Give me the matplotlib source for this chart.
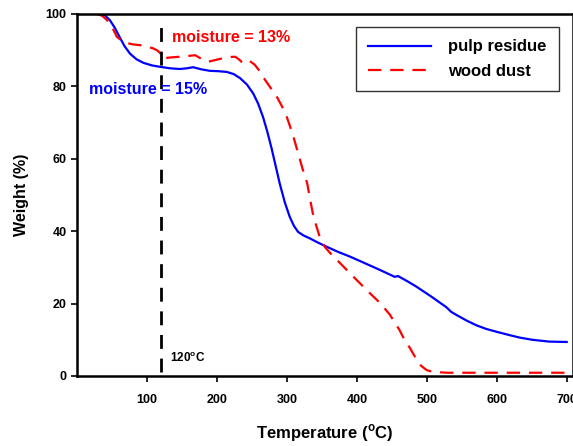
import matplotlib
matplotlib.use('Agg')
from matplotlib import pyplot as plt

plt.rcParams['font.family'] = ['Liberation Sans', 'DejaVu Sans']
plt.rcParams['font.weight'] = 'bold'

# pulp residue (blue, solid)
pulp_T = [29, 40, 47, 54, 61, 68, 76, 85, 95, 107, 119, 133, 147, 157, 166, 178, 190, 202,
          214, 224, 233, 243, 252, 259, 266, 272, 278, 284, 290, 297, 304, 310, 316,
          324, 333, 345, 357, 373, 390, 411, 433, 454, 459, 472, 485, 506, 528, 535,
          543, 557, 571, 585, 600, 616, 633, 651, 675, 700]
pulp_W = [100, 99.6, 98.3, 96.2, 93.6, 91.1, 89, 87.5, 86.5, 85.8, 85.4, 85.0, 84.8, 85.0,
          85.3, 84.7, 84.3, 84.2, 84, 83.4, 82.3, 80.5, 78, 75.2, 71.5, 67.5, 63,
          58, 53, 48, 44, 41.5, 39.8, 38.8, 38, 36.8, 35.7, 34.3, 33, 31.2, 29.3,
          27.4, 27.6, 26.2, 24.7, 22, 19, 17.7, 16.8, 15.3, 14, 13, 12.2, 11.4, 10.6,
          10, 9.5, 9.4]

# wood dust (red, dashed)
wood_T = [29, 36, 43, 50, 57, 64, 71, 80, 90, 100, 109, 115, 120, 121, 134, 147, 158, 169,
          178, 187, 198, 209, 218, 226, 232, 237, 242, 247, 254, 260, 266, 276, 286,
          293, 300, 308, 316, 322, 329, 333, 337, 342, 347, 354, 365, 376, 390, 404,
          418, 433, 447, 461, 466, 471, 476, 481, 486, 492, 500, 510, 530, 550, 600,
          650, 700]
wood_W = [100, 99.5, 98.3, 96.4, 93.7, 92.6, 92, 91.6, 91.4, 91.0, 90.5, 89.9, 89, 87.7,
          88.0, 88.2, 88.4, 88.6, 87.6, 86.8, 87.3, 87.8, 88.1, 88.2, 87.4, 86.4,
          86.8, 87, 86, 84.5, 82.6, 79.8, 77, 74.5, 71.5, 67, 61.6, 57.5, 53.3, 49,
          45, 41.5, 38.4, 35.7, 33.3, 31.2, 28.4, 25.7, 23, 20.2, 17, 12.7, 10.8, 9.2,
          7.7, 6, 4.4, 2.8, 1.6, 1.1, 0.9, 0.9, 0.9, 0.9, 0.9]

fig = plt.figure(figsize=(5.73, 4.46), dpi=100)
ax = fig.add_axes([77 / 573, 70 / 446, 1 - 77 / 573, 362 / 446])

ax.plot(pulp_T, pulp_W, color='blue', lw=1.6, label='pulp residue')
ax.plot(wood_T, wood_W, color='red', lw=1.6, ls=(0, (6, 4)), label='wood dust')
ax.axvline(120, ymin=0.01, ymax=0.99, color='black', lw=2, ls=(0, (5, 3.5)))

ax.text(136, 93.6, 'moisture = 13%', color='red', fontsize=11.5, fontweight='bold',
        va='center')
ax.text(17, 79.2, 'moisture = 15%', color='blue', fontsize=11.5, fontweight='bold',
        va='center')
ax.text(133, 5, '120$^\\mathregular{o}$C', color='black', fontsize=8.5, fontweight='bold',
        va='center')

ax.set_xlim(0, 709)
ax.set_ylim(0, 100)
ax.set_xticks([100, 200, 300, 400, 500, 600, 700])
ax.set_yticks([0, 20, 40, 60, 80, 100])
ax.tick_params(axis='both', labelsize=9, width=1.2, length=4)
ax.tick_params(axis='x', pad=9)
for s in ax.spines.values():
    s.set_linewidth(1.8)

ax.set_xlabel('Temperature ($^\\mathregular{o}$C)', fontsize=12, fontweight='bold', labelpad=12)
ax.set_ylabel('Weight (%)', fontsize=11.5, fontweight='bold', labelpad=12)

leg = ax.legend(loc='upper right', fontsize=12, frameon=True, fancybox=False,
                handlelength=3.8, handletextpad=1.0, borderpad=0.75, labelspacing=0.55,
                borderaxespad=0)
leg.get_frame().set_edgecolor('black')
leg.get_frame().set_linewidth(1.0)
leg.set_bbox_to_anchor((559 / 573, 1 - 27 / 446), transform=fig.transFigure)

fig.savefig('out.png', dpi=100)
